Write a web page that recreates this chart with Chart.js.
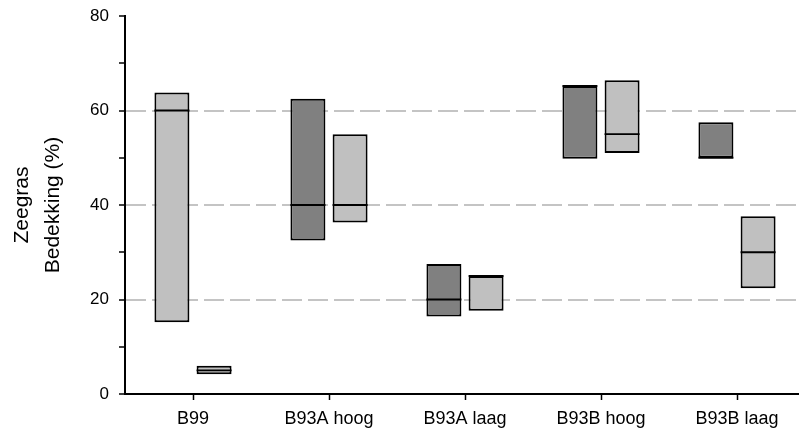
<!DOCTYPE html>
<html>
<head>
<meta charset="utf-8">
<script src="https://cdn.jsdelivr.net/npm/chart.js@4/dist/chart.umd.min.js"></script>
<style>
  html, body { margin: 0; padding: 0; background: #fff; overflow: hidden; }
  #wrap { position: absolute; left: 0; top: 0; width: 805px; height: 435px; }
</style>
</head>
<body>
<div id="wrap"><canvas id="c"></canvas></div>
<script>
// ---- data ----
const categories = ['B99', 'B93A hoog', 'B93A laag', 'B93B hoog', 'B93B laag'];
const leftLow     = [15.2, 32.5, 16.4, 49.8, 50.0];
const leftHigh    = [63.8, 62.5, 27.5, 65.2, 57.5];
const leftMedian  = [60.0, 40.0, 20.0, 65.2, 50.0];
const rightLow    = [4.2, 36.3, 17.6, 51.0, 22.4];
const rightHigh   = [6.0, 55.0, 25.0, 66.4, 37.6];
const rightMedian = [5.0, 40.0, 25.0, 55.0, 30.0];
const yTickLabels = [0, 20, 40, 60, 80];
const dashedGridValues = [20, 40, 60];

// ---- styles ----
const DARK = '#808080';
const LIGHT = '#c0c0c0';
const leftFill = [LIGHT, DARK, DARK, DARK, DARK];
const FONT = "'Liberation Sans', Arial, sans-serif";

const medianPlugin = {
  id: 'medians',
  afterDatasetsDraw(chart) {
    const ctx = chart.ctx;
    const y = chart.scales.y;
    chart.data.datasets.forEach((ds, i) => {
      const meta = chart.getDatasetMeta(i);
      meta.data.forEach((el, j) => {
        const m = ds.medians[j];
        if (m == null) return;
        const py = y.getPixelForValue(m);
        ctx.save();
        ctx.strokeStyle = '#000';
        ctx.lineWidth = 1.8;
        ctx.beginPath();
        ctx.moveTo(el.x - el.width / 2, py);
        ctx.lineTo(el.x + el.width / 2, py);
        ctx.stroke();
        ctx.restore();
      });
    });
  }
};

new Chart(document.getElementById('c'), {
  type: 'bar',
  data: {
    labels: categories,
    datasets: [
      {
        data: categories.map((_, i) => [leftLow[i], leftHigh[i]]),
        medians: leftMedian,
        backgroundColor: leftFill,
        borderColor: '#000',
        borderWidth: 2,
        borderSkipped: false,
        categoryPercentage: 0.62,
        barPercentage: 0.83
      },
      {
        data: categories.map((_, i) => [rightLow[i], rightHigh[i]]),
        medians: rightMedian,
        backgroundColor: LIGHT,
        borderColor: '#000',
        borderWidth: 2,
        borderSkipped: false,
        categoryPercentage: 0.62,
        barPercentage: 0.83
      }
    ]
  },
  options: {
    responsive: true,
    maintainAspectRatio: false,
    animation: false,
    layout: { padding: { top: 16, left: 0, right: 0, bottom: 0 } },
    plugins: { legend: { display: false }, tooltip: { enabled: false } },
    scales: {
      x: {
        offset: true,
        grid: { offset: false, drawOnChartArea: false, drawTicks: true, tickLength: 6, tickColor: '#000', tickWidth: 1.5 },
        border: { display: true, color: '#000', width: 2 },
        ticks: { color: '#000', font: { family: FONT, size: 18 }, padding: 8, maxRotation: 0, autoSkip: false },
        afterFit(s) { s.height = 41; s.paddingLeft = 0; s.paddingRight = 0; }
      },
      y: {
        min: 0, max: 80,
        ticks: {
          stepSize: 10,
          color: '#000',
          font: { family: FONT, size: 17 },
          padding: 10,
          callback: (v) => yTickLabels.includes(v) ? String(v) : ''
        },
        grid: {
          drawTicks: true,
          tickLength: 6,
          tickColor: '#000',
          tickWidth: 1.5,
          lineWidth: 2,
          color: (c) => (c.tick && dashedGridValues.includes(c.tick.value)) ? '#c4c4c4' : 'rgba(0,0,0,0)'
        },
        border: { display: true, color: '#000', width: 2, dash: [20, 6] },
        title: {
          display: true,
          text: ['Zeegras', 'Bedekking (%)'],
          color: '#000',
          font: { family: FONT, size: 21, lineHeight: 1.5 },
          padding: { top: 6, bottom: 0 }
        },
        afterFit(s) { s.width = 125; s.paddingTop = 10; s.paddingBottom = 10; }
      }
    }
  },
  plugins: [medianPlugin]
});
</script>
</body>
</html>
